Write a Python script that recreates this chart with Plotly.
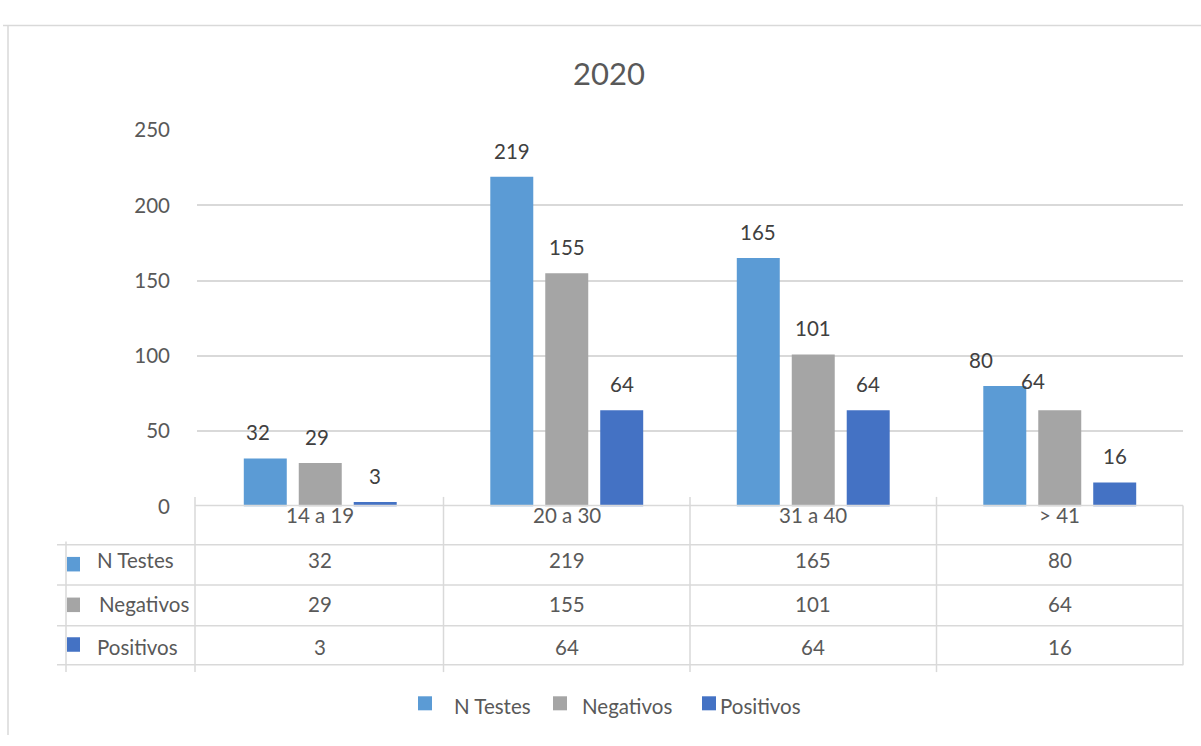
import plotly.graph_objects as go

W, H = 1201, 746

categories = ["14 a 19", "20 a 30", "31 a 40", "> 41"]
series_names = ["N Testes", "Negativos", "Positivos"]
n_testes = [32, 219, 165, 80]
negativos = [29, 155, 101, 64]
positivos = [3, 64, 64, 16]
y_ticks = [0, 50, 100, 150, 200, 250]

series_values = [n_testes, negativos, positivos]
colors = ["#5B9BD5", "#A5A5A5", "#4472C4"]
FONT = "Lato"
FS = 20.5
TXT = "#595959"
LINE = "#D9D9D9"


def py(p):
    return 1 - p / H


def px(p):
    return p / W


X0, X1 = 197, 1183
Y0, Y1 = 510, 121

fig = go.Figure()
for name, vals, col in zip(series_names, series_values, colors):
    fig.add_trace(go.Bar(x=categories, y=vals, name=name, marker=dict(color=col, line=dict(width=0)),
                         showlegend=False, hoverinfo="x+y+name"))

annotations = []
shapes = []

# data labels
group_shift = [-55, 0, 55]
label_dx = [[-7, 0, 0, -24], [-3, 0, 0, -27], [0, 0, 0, 0]]
label_dy = [[0, 0, 0, 0], [0, 0, 0, 3], [0, 0, 0, 0]]
for si, vals in enumerate(series_values):
    for ci, v in enumerate(vals):
        annotations.append(dict(x=categories[ci], y=v, xref="x", yref="y", text=str(v), showarrow=False,
                                xshift=group_shift[si] + label_dx[si][ci], yshift=26 + label_dy[si][ci],
                                yanchor="middle", font=dict(family=FONT, size=FS, color="#404040")))

# title
annotations.append(dict(x=px(609), y=py(62.5), xref="paper", yref="paper", text="2020", showarrow=False,
                        xanchor="center", yanchor="middle", font=dict(family=FONT, size=31, color=TXT)))

# outer frame
shapes.append(dict(type="line", xref="paper", yref="paper", x0=px(3), x1=px(1201), y0=py(13), y1=py(13),
                   line=dict(color=LINE, width=1.5)))
shapes.append(dict(type="line", xref="paper", yref="paper", x0=px(8), x1=px(8), y0=py(13), y1=py(746),
                   line=dict(color=LINE, width=1.5)))

# data table
cat_w = (X1 - X0) / len(categories)
cat_centers = [X0 + cat_w * (i + 0.5) for i in range(len(categories))]
vlines = [X0 - 2] + [X0 + cat_w * i for i in range(1, len(categories))]
for xv in vlines:
    shapes.append(dict(type="line", xref="paper", yref="paper", x0=px(xv), x1=px(xv), y0=py(500), y1=py(681),
                       line=dict(color=LINE, width=1.5)))
shapes.append(dict(type="line", xref="paper", yref="paper", x0=px(X1), x1=px(X1), y0=py(509), y1=py(674),
                   line=dict(color=LINE, width=1.5)))
shapes.append(dict(type="line", xref="paper", yref="paper", x0=px(66), x1=px(66), y0=py(546), y1=py(681),
                   line=dict(color=LINE, width=1.5)))
shapes.append(dict(type="line", xref="paper", yref="paper", x0=px(195), x1=px(X1), y0=py(509), y1=py(509),
                   line=dict(color=LINE, width=1.5)))
for yv in [549.5, 591, 633, 673.5]:
    shapes.append(dict(type="line", xref="paper", yref="paper", x0=px(57), x1=px(X1), y0=py(yv), y1=py(yv),
                       line=dict(color=LINE, width=1.5)))

for ci, c in enumerate(categories):
    annotations.append(dict(x=px(cat_centers[ci]), y=py(519), xref="paper", yref="paper", text=c, showarrow=False,
                            xanchor="center", yanchor="middle", font=dict(family=FONT, size=FS, color=TXT)))

row_y = [565.5, 610.5, 655]
sw_top = [562, 604, 645]
name_x = [95, 97, 95]
for si, (name, vals, col) in enumerate(zip(series_names, series_values, colors)):
    shapes.append(dict(type="rect", xref="paper", yref="paper", x0=px(67), x1=px(80), y0=py(sw_top[si]),
                       y1=py(sw_top[si] + 15), fillcolor=col, line=dict(width=0)))
    annotations.append(dict(x=px(name_x[si]), y=py(row_y[si]), xref="paper", yref="paper", text=name,
                            showarrow=False, xanchor="left", yanchor="middle",
                            font=dict(family=FONT, size=FS, color=TXT)))
    for ci, v in enumerate(vals):
        annotations.append(dict(x=px(cat_centers[ci]), y=py(row_y[si]), xref="paper", yref="paper", text=str(v),
                                showarrow=False, xanchor="center", yanchor="middle",
                                font=dict(family=FONT, size=FS, color=TXT)))

# bottom legend
leg_sq = [418, 553, 702]
leg_txt = [452, 580, 718]
for si, (name, col) in enumerate(zip(series_names, colors)):
    shapes.append(dict(type="rect", xref="paper", yref="paper", x0=px(leg_sq[si]), x1=px(leg_sq[si] + 14),
                       y0=py(706), y1=py(720.5), fillcolor=col, line=dict(width=0)))
    annotations.append(dict(x=px(leg_txt[si]), y=py(716.5), xref="paper", yref="paper", text=name,
                            showarrow=False, xanchor="left", yanchor="middle",
                            font=dict(family=FONT, size=FS, color=TXT)))

fig.update_layout(
    width=W, height=H,
    margin=dict(l=0, r=0, t=0, b=0),
    paper_bgcolor="white", plot_bgcolor="white",
    barmode="group", bargap=0.331, bargroupgap=0.218,
    xaxis=dict(domain=[px(X0), px(X1)], type="category", categoryorder="array", categoryarray=categories,
               range=[-0.5, 3.5], showticklabels=False, showgrid=False, zeroline=False, showline=False,
               fixedrange=True),
    yaxis=dict(domain=[py(Y0), py(Y1)], range=[0, 250], tickvals=y_ticks, showgrid=True, gridcolor=LINE,
               gridwidth=1.5, zeroline=False, showline=False, ticklabelstandoff=26,
               tickfont=dict(family=FONT, size=FS, color=TXT), fixedrange=True),
    shapes=shapes,
    annotations=annotations,
    showlegend=False,
)

fig.write_html("out.html")
